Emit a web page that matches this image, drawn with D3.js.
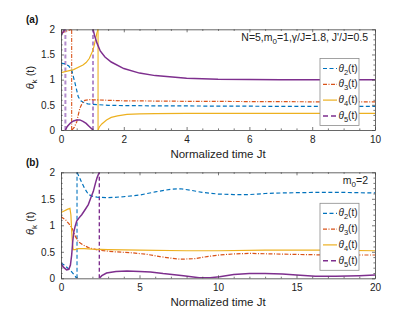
<!DOCTYPE html>
<html><head><meta charset="utf-8">
<script src="https://cdn.jsdelivr.net/npm/d3@7"></script>
<style>
html,body{margin:0;padding:0;background:#fff;}
svg{display:block;font-family:"Liberation Sans",Arial,Helvetica,sans-serif;}
</style></head>
<body><svg id="c" width="415" height="313"></svg>
<script>
// ---------- DATA ----------
const seriesNames = ["θ2(t)", "θ3(t)", "θ4(t)", "θ5(t)"];
const seriesSub = ["2", "3", "4", "5"];
const xTicksA = [0, 2, 4, 6, 8, 10];
const xTicksB = [0, 5, 10, 15, 20];
const yTicks = [0, 0.5, 1, 1.5, 2];
const yTickLabels = ["0", "0.5", "1", "1.5", "2"];

// Panel (a): each series is a list of continuous segments of [t, theta]
const a_theta2 = [[[0,1.33],[0.15,1.31],[0.25,1.27],[0.34,1.19],[0.45,0.92],[0.55,0.66],[0.63,0.58],[0.71,0.55],[0.85,0.52],[1.03,0.51],[1.5,0.49],[2,0.485],[3,0.48],[5,0.475],[7,0.47],[10,0.468]]];
const a_theta3 = [[[0,1.93],[0.1,1.95],[0.2,1.97],[0.34,2.0]],
                  [[0.35,0],[0.42,0.05],[0.5,0.16],[0.55,0.3],[0.6,0.43],[0.68,0.54],[0.76,0.59],[0.9,0.605],[1.03,0.6],[1.5,0.59],[2,0.58],[3,0.575],[4,0.57],[6,0.565],[8,0.56],[10,0.56]]];
const a_theta4 = [[[0,1.14],[0.2,1.17],[0.4,1.2],[0.7,1.29],[0.8,1.34],[0.9,1.42],[1.0,1.56],[1.05,1.66],[1.1,1.8],[1.14,1.92],[1.18,2.0]],
                  [[1.18,0],[1.22,0.06],[1.3,0.12],[1.45,0.2],[1.6,0.25],[1.8,0.28],[2.1,0.31],[2.5,0.32],[3,0.325],[4,0.33],[10,0.33]]];
const a_theta5 = [[[0,1.88],[0.05,1.93],[0.1,1.98],[0.14,2.0]],
                  [[0.14,0],[0.2,0.07],[0.3,0.14],[0.4,0.18],[0.5,0.2],[0.6,0.2],[0.7,0.17],[0.8,0.13],[0.9,0.07],[1.02,0.0]],
                  [[1.02,2.0],[1.08,1.85],[1.15,1.72],[1.25,1.57],[1.4,1.45],[1.6,1.35],[2,1.22],[2.5,1.13],[3,1.08],[4,1.03],[5,1.01],[7,1.0],[10,1.0]]];
// vertical jumps (t, series index)
const a_jumps = [[0.34, 1], [1.18, 2], [0.14, 3], [1.02, 3]];

// Panel (b)
const b_theta2 = [[[0,0.29],[0.2,0.25],[0.4,0.2],[0.6,0.15],[0.8,0.08],[0.95,0.02],[1.02,0]],
                  [[1.02,2.0],[1.15,1.92],[1.3,1.82],[1.5,1.7],[1.75,1.58],[2.0,1.55],[2.3,1.53],[3,1.52],[4,1.54],[5,1.57],[6,1.63],[7,1.68],[7.6,1.69],[8.3,1.66],[9,1.62],[10,1.59],[11,1.58],[12,1.58],[13,1.6],[14,1.61],[16,1.62],[18,1.62],[20,1.61]]];
const b_theta3 = [[[0,1.16],[0.3,1.1],[0.5,1.03],[0.7,0.95],[0.9,0.8],[1.1,0.69],[1.4,0.63],[1.75,0.58],[2.4,0.53],[3.4,0.5],[4.6,0.48],[5.5,0.45],[6.3,0.41],[7,0.38],[7.6,0.36],[8.5,0.37],[9.3,0.41],[10.1,0.44],[11,0.46],[12,0.47],[13.5,0.46],[15,0.45],[17,0.44],[20,0.44]]];
const b_theta4 = [[[0,1.24],[0.2,1.27],[0.4,1.3],[0.57,1.32],[0.63,1.2],[0.68,0.9],[0.73,0.65],[0.78,0.54],[0.9,0.54],[1.1,0.56],[1.5,0.56],[2,0.55],[3,0.54],[5,0.53],[8,0.52],[10,0.52],[13,0.53],[15,0.53],[17,0.53],[20,0.52]]];
const b_theta5 = [[[0,0.28],[0.15,0.21],[0.36,0.16],[0.5,0.17],[0.6,0.25],[0.68,0.44],[0.75,0.7],[0.82,0.88],[0.9,0.98],[1.0,1.08],[1.15,1.14],[1.32,1.2],[1.5,1.28],[1.74,1.39],[1.9,1.52],[2.06,1.64],[2.2,1.8],[2.3,1.9],[2.44,2.0]],
                  [[2.44,0],[2.6,0.05],[2.9,0.1],[3.5,0.13],[4.2,0.14],[5,0.13],[5.7,0.12],[6.5,0.09],[7.8,0.05],[8.8,0.01],[9.5,0.01],[10.1,0.03],[11,0.07],[12,0.09],[13,0.09],[14.1,0.08],[15,0.06],[16.2,0.04],[17.5,0.04],[19,0.05],[20,0.06]]];
const b_jumps = [[1.02, 0], [2.44, 3]];

// ---------- STYLE ----------
const colors = ["#0072BD", "#D95319", "#EDB120", "#7E2F8E"];
const dashes = ["4,2.5", "4,1.5,1,1.5", null, null];
const widths = [1.2, 1.2, 1.2, 1.5];
const legendDash = ["4,2.5", "4,1.5,1,1.5", null, "5,3"];

const svg = d3.select("#c");
const axisColor = "#404040";

function panel(opt) {
  const x = d3.scaleLinear().domain(opt.xDomain).range([61, 375]);
  const y = d3.scaleLinear().domain([0, 2]).range([opt.bottom, opt.top]);
  const g = svg.append("g");
  const clipId = "clip" + opt.id;
  svg.append("clipPath").attr("id", clipId).append("rect")
    .attr("x", 61).attr("y", opt.top).attr("width", 314).attr("height", opt.bottom - opt.top);

  const dg = g.append("g").attr("clip-path", `url(#${clipId})`);
  const line = d3.line().x(d => x(d[0])).y(d => y(d[1]));

  // jumps
  opt.jumps.forEach(([t, si]) => {
    const light = opt.lightJump && si === 3;
    dg.append("line")
      .attr("x1", x(t)).attr("x2", x(t)).attr("y1", y(0)).attr("y2", y(2))
      .attr("stroke", light ? "#b38ccc" : colors[si])
      .attr("stroke-width", light ? 2 : widths[si] * 0.9)
      .attr("stroke-dasharray", si === 2 ? null : (si === 1 ? "4,1.5,1,1.5" : "4,2.5"));
  });

  // series
  opt.series.forEach((segs, si) => {
    segs.forEach(seg => {
      dg.append("path").attr("d", line(seg))
        .attr("fill", "none").attr("stroke", colors[si])
        .attr("stroke-width", widths[si])
        .attr("stroke-dasharray", dashes[si]);
    });
  });

  // axes
  const mk = (ax) => ax;
  const bottomAx = g.append("g").attr("transform", `translate(0,${opt.bottom})`)
    .call(d3.axisBottom(x).tickValues(opt.xTicks).tickSize(-3).tickSizeOuter(0).tickPadding(6).tickFormat(d3.format("d")));
  const topAx = g.append("g").attr("transform", `translate(0,${opt.top})`)
    .call(d3.axisTop(x).tickValues(opt.xTicks).tickSize(-3).tickSizeOuter(0).tickFormat(""));
  const leftAx = g.append("g").attr("transform", `translate(61,0)`)
    .call(d3.axisLeft(y).tickValues(yTicks).tickSize(-3).tickSizeOuter(0).tickPadding(6).tickFormat((d, i) => yTickLabels[i]));
  const rightAx = g.append("g").attr("transform", `translate(375,0)`)
    .call(d3.axisRight(y).tickValues(yTicks).tickSize(-3).tickSizeOuter(0).tickFormat(""));
  // minor ticks
  const xMinor = d3.range(opt.xDomain[0], opt.xDomain[1] + 1e-9, opt.xMinor).filter(v => !opt.xTicks.some(t => Math.abs(t - v) < 1e-9));
  const yMinor = d3.range(0, 2.0001, 0.1).filter(v => !yTicks.some(t => Math.abs(t - v) < 1e-9));
  [[d3.axisBottom(x).tickValues(xMinor), `translate(0,${opt.bottom})`],
   [d3.axisTop(x).tickValues(xMinor), `translate(0,${opt.top})`],
   [d3.axisLeft(y).tickValues(yMinor), `translate(61,0)`],
   [d3.axisRight(y).tickValues(yMinor), `translate(375,0)`]].forEach(([ax, tr]) => {
    const mg = g.append("g").attr("transform", tr).call(ax.tickSize(-1.6).tickSizeOuter(0).tickFormat(""));
    mg.select(".domain").remove();
  });
  g.selectAll(".domain").attr("stroke", axisColor).attr("stroke-width", 0.8);
  g.selectAll(".tick line").attr("stroke", axisColor).attr("stroke-width", 0.7);
  g.selectAll(".tick text").attr("font-size", 10).attr("fill", "#222")
    .attr("font-family", '"Liberation Sans",Arial,sans-serif');

  // x label
  g.append("text").attr("x", 218).attr("y", opt.bottom + 27.5).attr("text-anchor", "middle")
    .attr("font-size", 11.5).attr("fill", "#222").text("Normalized time Jt");
  // y label
  const yl = g.append("text").attr("transform", `translate(34,${(opt.top + opt.bottom) / 2 - 2}) rotate(-90)`)
    .attr("text-anchor", "middle").attr("font-size", 11).attr("fill", "#222");
  yl.append("tspan").attr("font-style", "italic").text("θ");
  yl.append("tspan").attr("font-size", 8).attr("dy", 3).text("k");
  yl.append("tspan").attr("dy", -3).text(" (t)");
  // panel letter
  g.append("text").attr("x", 26).attr("y", opt.top - 6).attr("font-size", 10).attr("font-weight", "bold")
    .attr("fill", "#111").text(opt.letter);

  // annotation
  const an = g.append("text").attr("x", 368).attr("y", opt.top + 12).attr("text-anchor", "end")
    .attr("font-size", 10.5).attr("fill", "#222");
  opt.annot.forEach(p => {
    const ts = an.append("tspan").text(p.t);
    if (p.sub) ts.attr("font-size", 8).attr("dy", 3);
    if (p.up) ts.attr("dy", -3);
    if (p.it) ts.attr("font-style", "italic");
  });

  // legend
  const lg = g.append("g");
  lg.append("rect").attr("x", 320).attr("y", opt.legTop).attr("width", 39).attr("height", 67)
    .attr("fill", "#fff").attr("stroke", "#8c8c8c").attr("stroke-width", 0.8);
  seriesNames.forEach((n, i) => {
    const yy = opt.legTop + 10 + i * 15.8;
    lg.append("line").attr("x1", 323).attr("x2", 337).attr("y1", yy).attr("y2", yy)
      .attr("stroke", colors[i]).attr("stroke-width", widths[i]).attr("stroke-dasharray", legendDash[i]);
    const tx = lg.append("text").attr("x", 338.5).attr("y", yy + 3).attr("font-size", 10).attr("fill", "#222");
    tx.append("tspan").attr("font-style", "italic").text("θ");
    tx.append("tspan").attr("font-size", 7.5).attr("dy", 3).text(seriesSub[i]);
    tx.append("tspan").attr("dy", -3).text("(t)");
  });
}

panel({id: "a", letter: "(a)", xDomain: [0, 10], xTicks: xTicksA, xMinor: 0.5, top: 29.3, bottom: 130,
  series: [a_theta2, a_theta3, a_theta4, a_theta5], jumps: a_jumps, lightJump: true, legTop: 58.5,
  annot: [{t: "N=5,m"}, {t: "0", sub: true}, {t: "=1,", up: true}, {t: "γ"}, {t: "/J=1.8, J'/J=0.5"}]});
panel({id: "b", letter: "(b)", xDomain: [0, 20], xTicks: xTicksB, xMinor: 1, top: 172.3, bottom: 278.3,
  series: [b_theta2, b_theta3, b_theta4, b_theta5], jumps: b_jumps, lightJump: false, legTop: 203.3,
  annot: [{t: "m"}, {t: "0", sub: true}, {t: "=2", up: true}]});
</script></body></html>
